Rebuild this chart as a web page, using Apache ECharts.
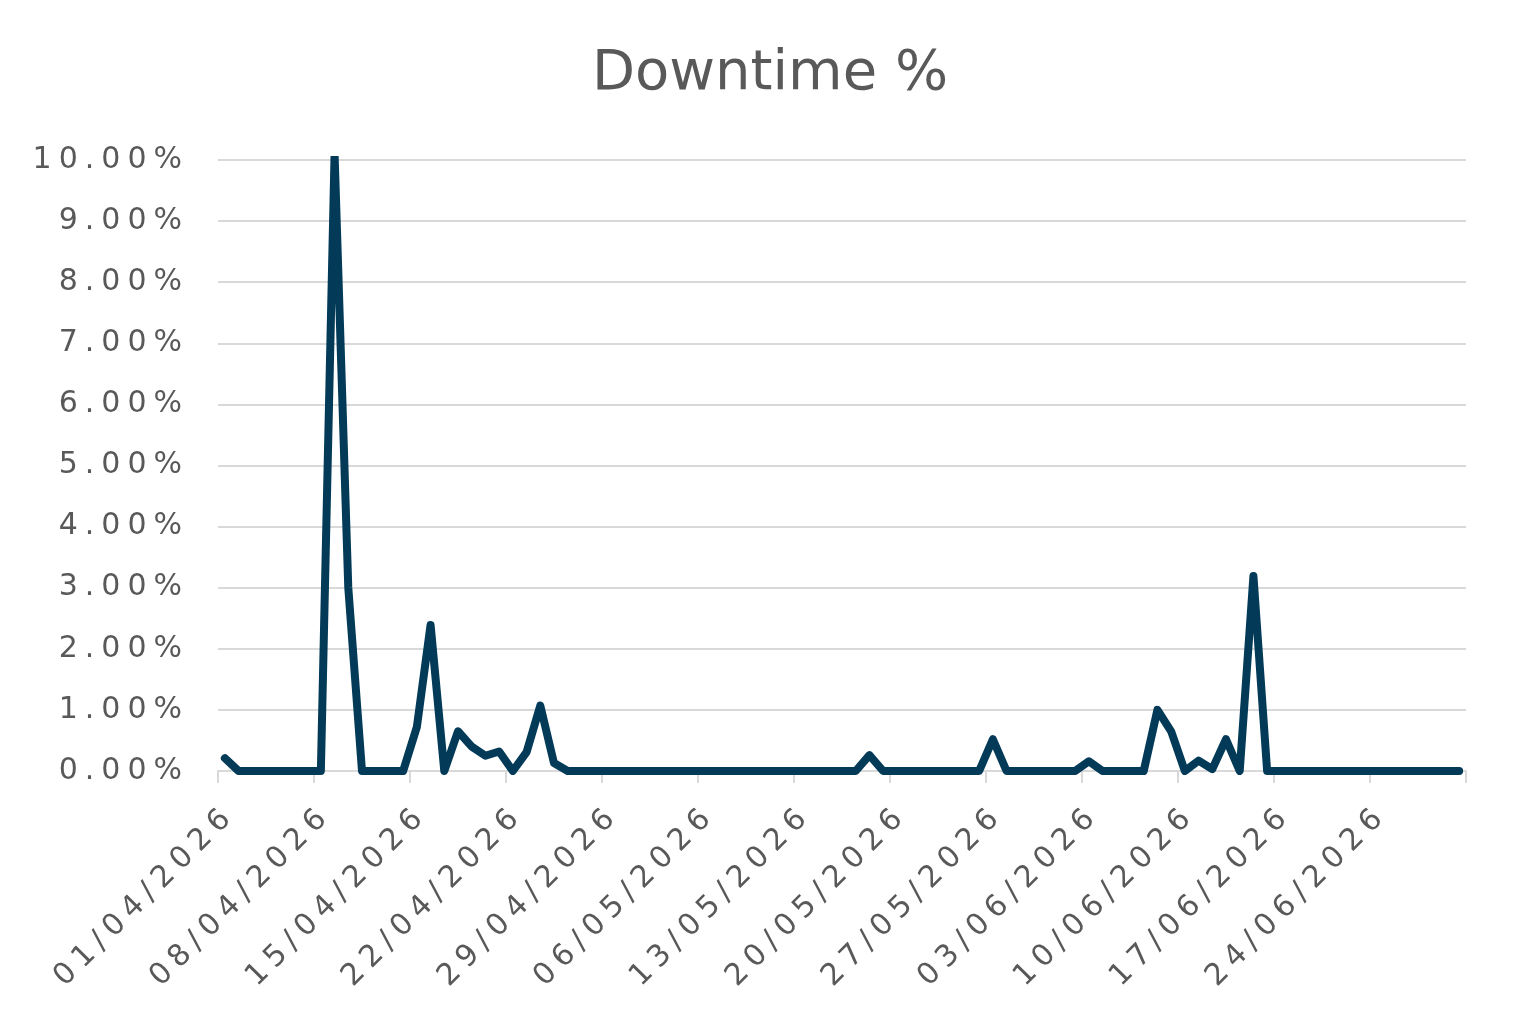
<!DOCTYPE html>
<html><head><meta charset="utf-8">
<script src="https://cdn.jsdelivr.net/npm/echarts@6/dist/echarts.min.js"></script>
<style>html,body{margin:0;padding:0;background:#fff}#chart{width:1540px;height:1032px}</style>
</head><body><div id="chart"></div>
<script>
// Wide label lettering (reference font is very wide)
(function(){
  var proto = CanvasRenderingContext2D.prototype;
  var d = Object.getOwnPropertyDescriptor(proto, 'font');
  if (d && d.set && ('letterSpacing' in proto)) {
    Object.defineProperty(proto, 'font', {
      configurable: true, enumerable: d.enumerable,
      get: function(){ return d.get.call(this); },
      set: function(v){
        d.set.call(this, v);
        var m = /(\d+(?:\.\d+)?)px/.exec(v);
        var s = m ? parseFloat(m[1]) : 0;
        this.letterSpacing = (s > 0 && s < 40) ? (s * 0.233).toFixed(1) + 'px' : '0px';
      }
    });
  }
})();

const title = 'Downtime %';

const dates = [
  '01/04/2026','02/04/2026','03/04/2026','04/04/2026','05/04/2026','06/04/2026','07/04/2026','08/04/2026','09/04/2026','10/04/2026',
  '11/04/2026','12/04/2026','13/04/2026','14/04/2026','15/04/2026','16/04/2026','17/04/2026','18/04/2026','19/04/2026','20/04/2026',
  '21/04/2026','22/04/2026','23/04/2026','24/04/2026','25/04/2026','26/04/2026','27/04/2026','28/04/2026','29/04/2026','30/04/2026',
  '01/05/2026','02/05/2026','03/05/2026','04/05/2026','05/05/2026','06/05/2026','07/05/2026','08/05/2026','09/05/2026','10/05/2026',
  '11/05/2026','12/05/2026','13/05/2026','14/05/2026','15/05/2026','16/05/2026','17/05/2026','18/05/2026','19/05/2026','20/05/2026',
  '21/05/2026','22/05/2026','23/05/2026','24/05/2026','25/05/2026','26/05/2026','27/05/2026','28/05/2026','29/05/2026','30/05/2026',
  '31/05/2026','01/06/2026','02/06/2026','03/06/2026','04/06/2026','05/06/2026','06/06/2026','07/06/2026','08/06/2026','09/06/2026',
  '10/06/2026','11/06/2026','12/06/2026','13/06/2026','14/06/2026','15/06/2026','16/06/2026','17/06/2026','18/06/2026','19/06/2026',
  '20/06/2026','21/06/2026','22/06/2026','23/06/2026','24/06/2026','25/06/2026','26/06/2026','27/06/2026','28/06/2026','29/06/2026',
  '30/06/2026'
];

// Downtime in percent, one value per day
const downtime = [
  0.21, 0, 0, 0, 0, 0, 0, 0, 10.1, 3.0,
  0, 0, 0, 0, 0.72, 2.39, 0, 0.65, 0.40, 0.25,
  0.32, 0, 0.31, 1.07, 0.13, 0, 0, 0, 0, 0,
  0, 0, 0, 0, 0, 0, 0, 0, 0, 0,
  0, 0, 0, 0, 0, 0, 0, 0.26, 0, 0,
  0, 0, 0, 0, 0, 0, 0.52, 0, 0, 0,
  0, 0, 0, 0.16, 0, 0, 0, 0, 1.00, 0.65,
  0, 0.17, 0.03, 0.52, 0, 3.19, 0, 0, 0, 0,
  0, 0, 0, 0, 0, 0, 0, 0, 0, 0,
  0
];

const yTicks = [0, 1, 2, 3, 4, 5, 6, 7, 8, 9, 10];

const chart = echarts.init(document.getElementById('chart'), null, {renderer: 'canvas'});
const textColor = '#595959';
const gridColor = '#d9d9d9';
const font = 'DejaVu Sans';

chart.setOption({
  animation: false,
  backgroundColor: '#ffffff',
  title: {
    text: title,
    left: 'center',
    top: 41,
    textStyle: {fontFamily: font, fontSize: 56, fontWeight: 'normal', color: textColor}
  },
  grid: {left: 218, right: 74, top: 160, bottom: 261, containLabel: false},
  xAxis: {
    type: 'value',
    min: 0,
    max: dates.length,
    interval: 7,
    axisLine: {show: true, lineStyle: {color: gridColor, width: 2}},
    axisTick: {show: true, length: 12, lineStyle: {color: gridColor, width: 2}},
    splitLine: {show: false},
    axisLabel: {
      rotate: 45,
      margin: 26,
      verticalAlign: 'top',
      fontFamily: font,
      fontSize: 30,
      color: textColor,
      formatter: function (v) { return v < dates.length ? dates[v] : ''; }
    }
  },
  yAxis: {
    type: 'value',
    min: yTicks[0],
    max: yTicks[yTicks.length - 1],
    interval: 1,
    axisLine: {show: false},
    axisTick: {show: false},
    splitLine: {show: true, lineStyle: {color: gridColor, width: 2}},
    axisLabel: {
      margin: 29,
      fontFamily: font,
      fontSize: 30,
      color: textColor,
      formatter: function (v) { return v.toFixed(2) + '%'; }
    }
  },
  series: [{
    type: 'line',
    name: title,
    data: downtime.map(function (v, i) { return [i + 0.5, v]; }),
    showSymbol: false,
    symbol: 'none',
    clip: true,
    lineStyle: {color: '#023a58', width: 8, cap: 'round', join: 'round'},
    emphasis: {disabled: true}
  }]
});
</script>
</body></html>
